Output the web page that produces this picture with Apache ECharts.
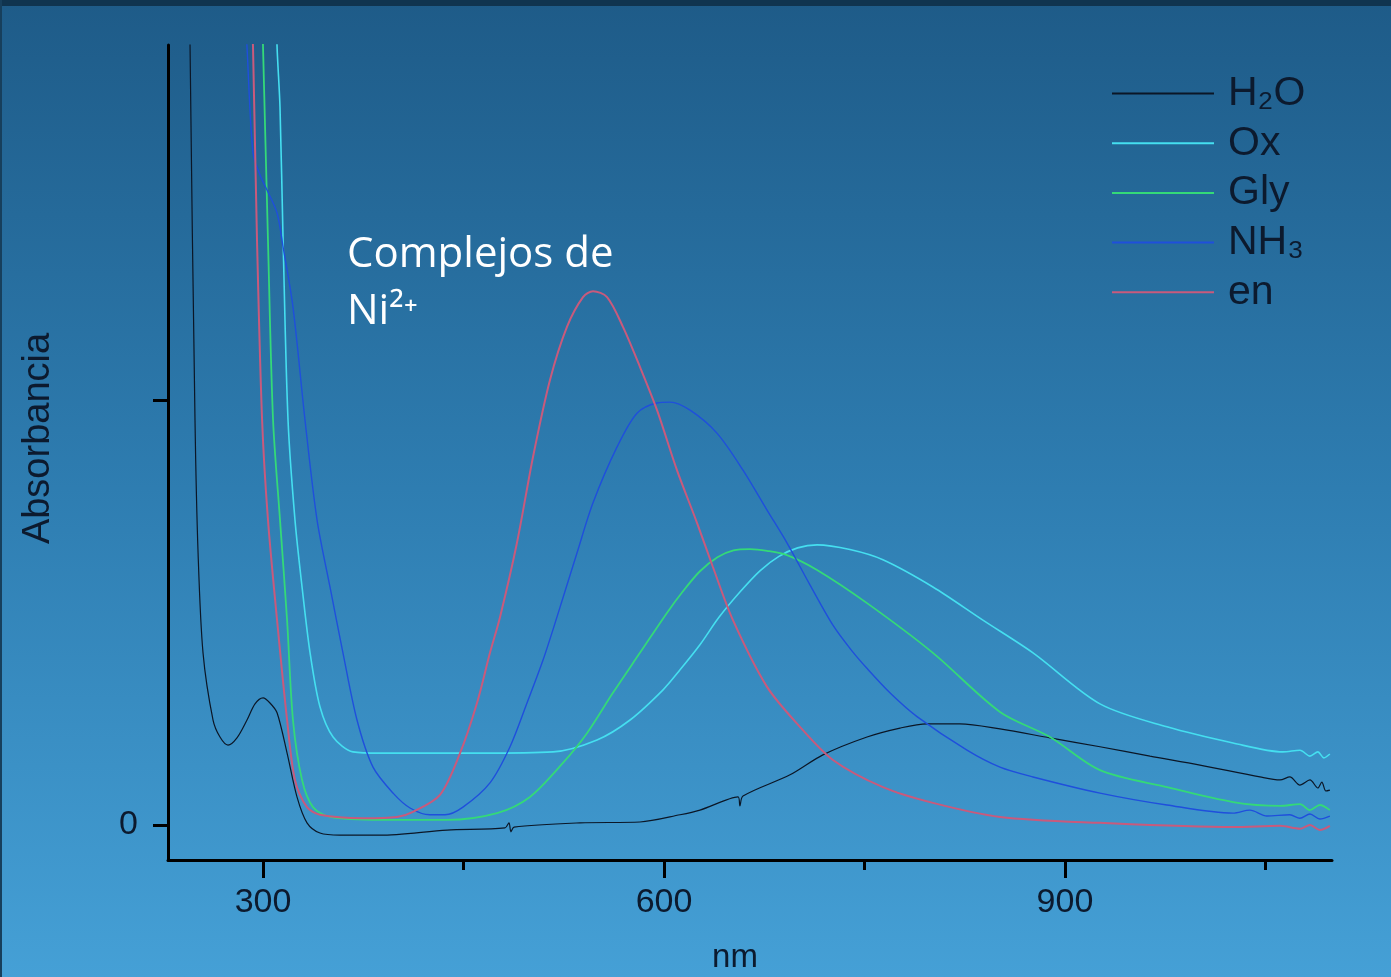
<!DOCTYPE html>
<html>
<head>
<meta charset="utf-8">
<script src="https://cdn.jsdelivr.net/npm/echarts@6/dist/echarts.min.js"></script>
<style>
html,body{margin:0;padding:0;width:1391px;height:977px;overflow:hidden;background:#2e7fb3;}
#chart{width:1391px;height:977px;}
</style>
</head>
<body>
<div id="chart"></div>
<script>
// ---- Data (wavelength in nm, absorbance in arbitrary units; tick "1" is the unlabeled upper tick) ----
const seriesNames = ['H₂O', 'Ox', 'Gly', 'NH₃', 'en'];

const h2oNm  = [244.6,245.4,249.1,251.4,255.1,262.6,267.8,273.8,280.5,288.0,294.0,300.0,305.2,310.5,318.0,325.4,332.9,342.6,357.6,387.5,437.7,481.0,484.0,485.5,487.8,537.2,582.0,612.0,626.9,655.4,656.8,659.1,694.3,718.9,751.9,776.6,796.8,821.4,851.4,888.8,926.2,963.6,1001.0,1045.9,1060.9,1068.3,1075.8,1083.3,1089.2,1092.2,1095.2,1098.2];
const h2oAbs = [2.18,1.831,0.953,0.640,0.405,0.247,0.207,0.188,0.205,0.247,0.285,0.299,0.287,0.264,0.169,0.066,0.005,-0.019,-0.024,-0.024,-0.012,-0.007,0.005,-0.016,-0.005,0.005,0.007,0.024,0.035,0.066,0.045,0.068,0.118,0.165,0.207,0.228,0.238,0.238,0.226,0.205,0.184,0.162,0.141,0.113,0.106,0.113,0.094,0.106,0.087,0.101,0.080,0.082];

const oxNm  = [307.3,310.5,312.7,315.0,318.7,323.9,329.2,335.2,342.6,352.4,367.3,387.5,462.3,517.0,549.9,574.6,599.3,612.0,626.9,641.0,656.8,671.8,686.0,700.0,714.5,739.1,763.8,801.2,838.6,876.1,926.2,976.3,1025.7,1063.1,1075.8,1083.3,1089.2,1093.7,1098.2];
const oxAbs = [2.18,1.831,1.689,1.376,0.953,0.718,0.560,0.405,0.278,0.207,0.172,0.169,0.169,0.172,0.200,0.247,0.318,0.365,0.424,0.488,0.548,0.598,0.632,0.652,0.659,0.648,0.624,0.560,0.482,0.405,0.285,0.231,0.193,0.172,0.176,0.162,0.172,0.158,0.167];

const glyNm  = [297.0,300.0,303.7,307.5,312.7,318.0,322.4,329.2,337.4,350.1,387.5,437.7,475.1,499.7,524.4,542.4,561.8,582.0,602.2,614.2,626.9,640.0,652.0,664.3,677.1,692.0,714.5,751.9,801.2,851.4,888.8,926.2,976.3,1025.7,1060.9,1075.8,1083.3,1090.7,1098.2];
const glyAbs = [2.18,1.831,1.376,0.953,0.718,0.482,0.247,0.106,0.042,0.019,0.012,0.012,0.028,0.066,0.146,0.216,0.311,0.405,0.499,0.550,0.597,0.630,0.646,0.649,0.645,0.635,0.600,0.522,0.405,0.266,0.207,0.129,0.089,0.054,0.045,0.049,0.035,0.047,0.035];

const nh3Nm  = [282.0,288.0,292.5,297.8,303.0,310.5,315.0,322.4,331.4,340.4,350.1,359.8,370.3,382.3,397.3,410.0,424.9,436.2,449.6,469.8,484.8,497.5,509.5,519.9,534.9,546.9,564.8,579.8,594.8,604.5,619.5,639.6,659.1,677.1,692.0,709.2,726.4,740.0,752.0,770.0,789.3,826.7,851.4,876.1,926.2,976.3,1025.7,1038.4,1051.1,1068.3,1075.8,1083.3,1090.7,1098.2];
const nh3Abs = [2.18,1.831,1.581,1.529,1.494,1.440,1.360,1.219,0.953,0.718,0.560,0.405,0.247,0.136,0.075,0.040,0.024,0.024,0.042,0.099,0.184,0.287,0.388,0.489,0.640,0.758,0.889,0.969,0.993,0.995,0.976,0.922,0.835,0.741,0.664,0.565,0.470,0.412,0.368,0.308,0.255,0.176,0.136,0.113,0.075,0.047,0.028,0.035,0.021,0.024,0.016,0.026,0.014,0.021];

const enNm  = [289.5,292.5,295.5,299.3,303.7,310.5,318.0,323.9,332.9,342.6,374.8,400.2,412.2,432.4,447.4,460.1,469.8,477.3,490.0,502.0,514.7,527.4,539.4,546.9,557.4,569.3,582.0,594.8,609.7,624.7,636.6,651.6,677.1,701.7,726.4,763.8,801.2,851.4,926.2,1025.7,1060.9,1075.8,1083.3,1090.7,1098.2];
const enAbs = [2.18,1.831,1.376,0.953,0.718,0.482,0.247,0.106,0.042,0.024,0.016,0.019,0.031,0.071,0.169,0.287,0.405,0.489,0.664,0.866,1.047,1.172,1.242,1.256,1.242,1.172,1.078,0.976,0.835,0.711,0.607,0.482,0.325,0.231,0.153,0.089,0.052,0.019,0.005,-0.005,-0.002,-0.009,0.000,-0.012,-0.002];

const xLabelValues = [300, 600, 900];
const xMinorTickValues = [450, 750, 1050];
const yTickValues = [0, 1];
const yLabelValues = [0];

const seriesNm  = [h2oNm, oxNm, glyNm, nh3Nm, enNm];
const seriesAbs = [h2oAbs, oxAbs, glyAbs, nh3Abs, enAbs];

// ---- Styles ----
const seriesColors = ['#0b1626', '#45dff0', '#34d978', '#1f4fdc', '#c95a7c'];
const seriesWidths = [1.2, 1.6, 1.8, 1.4, 2.0];
const inkColor = '#0c1a2e';
const axisFont = 'Liberation Sans, Arial, sans-serif';

const chart = echarts.init(document.getElementById('chart'), null, {renderer: 'canvas'});

const series = seriesNames.map((name, i) => ({
  name: name,
  type: 'line',
  xAxisIndex: 0,
  yAxisIndex: 0,
  data: seriesNm[i].map((x, k) => [x, seriesAbs[i][k]]),
  showSymbol: false,
  symbol: 'none',
  smooth: 0.3,
  color: seriesColors[i],
  itemStyle: {color: seriesColors[i]},
  lineStyle: {color: seriesColors[i], width: seriesWidths[i]},
  clip: true,
  silent: true,
  z: 2 + i
}));

const option = {
  animation: false,
  backgroundColor: {
    type: 'linear', x: 0, y: 0, x2: 0, y2: 1,
    colorStops: [
      {offset: 0, color: '#1e5b88'},
      {offset: 0.5, color: '#2e7db1'},
      {offset: 1, color: '#45a0d6'}
    ]
  },
  title: {
    text: 'Complejos de\nNi²⁺',
    left: 347,
    top: 227,
    padding: 0,
    textStyle: {
      color: '#ffffff',
      fontSize: 42,
      fontWeight: 'normal',
      fontFamily: 'Open Sans, Noto Sans, sans-serif',
      lineHeight: 57
    }
  },
  legend: {
    data: seriesNames,
    orient: 'vertical',
    left: 1112,
    top: 73,
    itemWidth: 102,
    itemHeight: 2,
    itemGap: 8.7,
    icon: 'rect',
    selectedMode: false,
    padding: 0,
    textStyle: {
      color: inkColor,
      fontSize: 41,
      lineHeight: 40,
      fontFamily: axisFont,
      padding: [0, 0, 0, 9]
    }
  },
  grid: {
    left: 168, right: 59, top: 45, bottom: 117,
    containLabel: false,
    outerBoundsMode: 'none'
  },
  xAxis: [
    {
      type: 'value',
      min: 228.9,
      max: 1099.8,
      name: 'nm',
      nameLocation: 'middle',
      nameGap: 81,
      nameTextStyle: {color: inkColor, fontSize: 33, fontFamily: axisFont, padding: [0, 30, 0, 0]},
      axisLine: {show: true, onZero: false, lineStyle: {color: '#000000', width: 3}},
      axisTick: {show: true, inside: false, length: 18, lineStyle: {color: '#000000', width: 3}, customValues: xLabelValues},
      axisLabel: {show: true, margin: 26, color: inkColor, fontSize: 34, fontFamily: axisFont, customValues: xLabelValues},
      splitLine: {show: false}
    },
    {
      type: 'value',
      min: 228.9,
      max: 1099.8,
      position: 'bottom',
      offset: 0,
      axisLine: {show: false, onZero: false},
      axisTick: {show: true, inside: false, length: 10, lineStyle: {color: '#000000', width: 3}, customValues: xMinorTickValues},
      axisLabel: {show: false},
      splitLine: {show: false}
    }
  ],
  yAxis: {
    type: 'value',
    min: -0.0824,
    max: 1.8353,
    name: 'Absorbancia',
    nameLocation: 'middle',
    nameGap: 110,
    nameTextStyle: {color: inkColor, fontSize: 38, fontFamily: axisFont, padding: [0, 0, 0, 28]},
    axisLine: {show: true, onZero: false, lineStyle: {color: '#000000', width: 3}},
    axisTick: {show: true, inside: false, length: 15, lineStyle: {color: '#000000', width: 3}, customValues: yTickValues},
    axisLabel: {show: true, margin: 30, color: inkColor, fontSize: 34, fontFamily: axisFont, customValues: yLabelValues},
    splitLine: {show: false}
  },
  graphic: [
    {type: 'rect', left: 0, top: 0, shape: {width: 1391, height: 6}, style: {fill: '#10344f'}, silent: true},
    {type: 'rect', left: 0, top: 0, shape: {width: 2, height: 977}, style: {fill: '#173f5c'}, silent: true}
  ],
  series: series
};

chart.setOption(option);
</script>
</body>
</html>
